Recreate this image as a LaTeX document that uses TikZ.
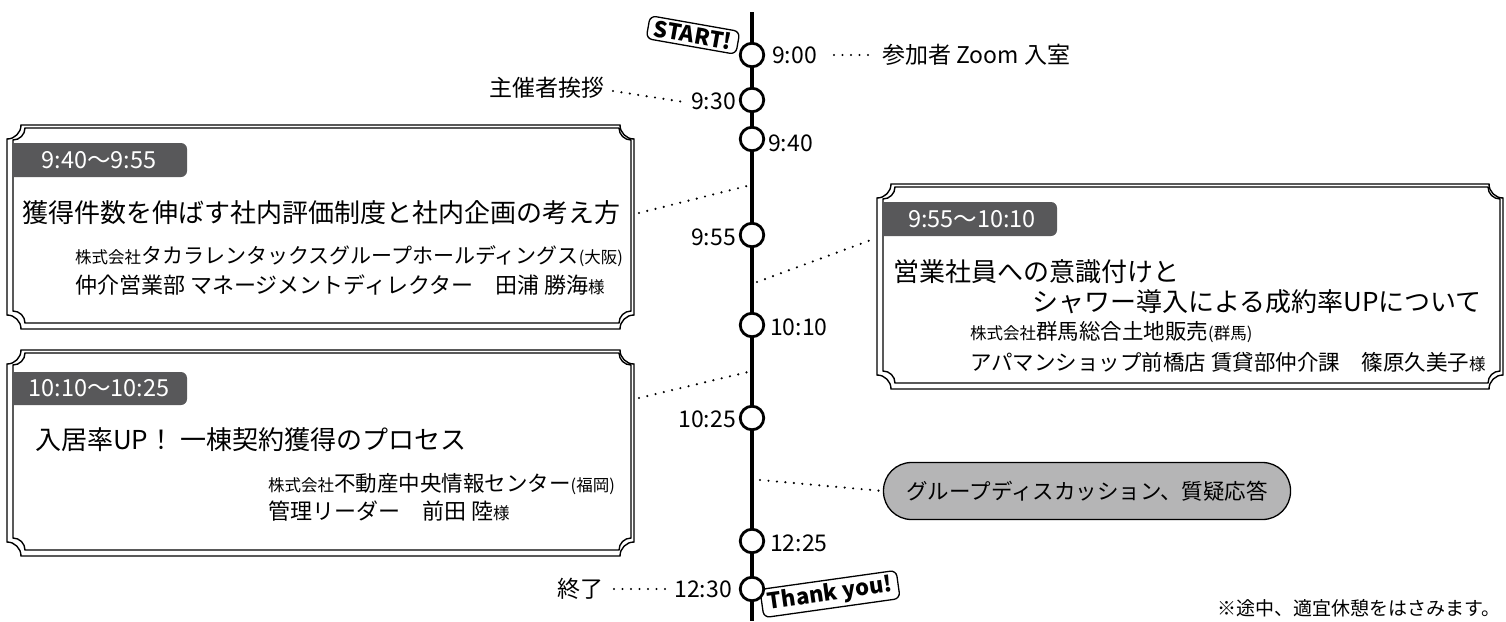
\documentclass[tikz,border=0pt]{standalone}
\usepackage{fontspec}
\setmainfont{Noto Sans CJK JP}
\definecolor{tabc}{HTML}{58585A}
\definecolor{pillc}{HTML}{B5B5B6}
\newcommand\fs[1]{\fontsize{#1}{#1}\selectfont}
\newcommand\sm[1]{{\fs{16.5}#1}}
% concave-cornered frame: x1 y1 x2 y2 r
\newcommand\concave[5]{%
 \draw[frame] ({#1+#5},#2) -- ({#3-#5},#2)
  .. controls ({#3-#5},{#2+0.55*#5}) and ({#3-0.55*#5},{#2+#5}) .. (#3,{#2+#5})
  -- (#3,{#4-#5})
  .. controls ({#3-0.55*#5},{#4-#5}) and ({#3-#5},{#4-0.55*#5}) .. ({#3-#5},#4)
  -- ({#1+#5},#4)
  .. controls ({#1+#5},{#4-0.55*#5}) and ({#1+0.55*#5},{#4-#5}) .. (#1,{#4-#5})
  -- (#1,{#2+#5})
  .. controls ({#1+0.55*#5},{#2+#5}) and ({#1+#5},{#2+0.55*#5}) .. cycle;}
\newcommand\tabshape[4]{%
 \fill[tabc] (#1,#2) [rounded corners=6pt] -- (#3,#2) -- (#3,#4) [sharp corners] -- (#1,#4) -- cycle;}
\begin{document}
\begin{tikzpicture}[x=1pt,y=-1pt,
  frame/.style={line width=1.4pt, fill=none},
  tcirc/.style={circle, draw, fill=white, line width=2.8pt, minimum size=23.5pt, inner sep=0pt},
  tlabel/.style={inner sep=0pt, font=\fs{23}},
  txt/.style={inner sep=0pt},
  dotline/.style={line width=2.4pt, line cap=round, dash pattern=on 0pt off 8.5pt},
  tabtxt/.style={inner sep=0pt, text=white, font=\fs{23.5}},
  badge/.style={draw, fill=white, line width=1.3pt, rounded corners=6pt, inner xsep=6pt, inner ysep=3pt, font=\bfseries\fs{22}}
]
\useasboundingbox (0,0) rectangle (1506,621);

% ---- frames ----
\concave{7}{125}{634}{329}{14}
\concave{13}{128}{631}{323}{12}
\concave{877}{184}{1503}{389}{14}
\concave{883}{187}{1500}{383}{12}
\concave{7}{350}{634}{556}{14}
\concave{13}{353}{631}{550}{12}

% ---- tabs ----
\tabshape{13}{143}{187}{177}
\node[tabtxt] (tab1) at (99,160) {9:40～9:55};
\tabshape{883}{202}{1057}{236}
\node[tabtxt] (tab2) at (972,219) {9:55～10:10};
\tabshape{13}{372}{187}{405}
\node[tabtxt] (tab3) at (99,388) {10:10～10:25};

% ---- box 1 ----
\node[txt, anchor=west, font=\fs{26}] (b1t) at (22,213) {獲得件数を伸ばす社内評価制度と社内企画の考え方};
\node[txt, anchor=west, font=\fs{21}] (b1a) at (75,256) {\sm{株式会社}タカラレンタックスグループホールディングス\sm{(大阪)}};
\node[txt, anchor=west, font=\fs{22}] (b1b) at (75,285) {仲介営業部 マネージメントディレクター　田浦 勝海\sm{様}};
\coordinate (b1r) at (639,213);

% ---- box 2 ----
\node[txt, anchor=west, font=\fs{26}] (b2t) at (893,272) {営業社員への意識付けと};
\node[txt, anchor=east, font=\fs{26}] (b2u) at (1482,302) {シャワー導入による成約率UPについて};
\node[txt, anchor=west, font=\fs{21.5}] (b2a) at (970,332) {\sm{株式会社}群馬総合土地販売\sm{(群馬)}};
\node[txt, anchor=west, font=\fs{21.5}] (b2b) at (970,362) {アパマンショップ前橋店 賃貸部仲介課　篠原久美子\sm{様}};
\coordinate (b2l) at (871,240);

% ---- box 3 ----
\node[txt, anchor=west, font=\fs{26}] (b3t) at (35,440) {入居率UP！ 一棟契約獲得のプロセス};
\node[txt, anchor=west, font=\fs{21.5}] (b3a) at (268,484) {\sm{株式会社}不動産中央情報センター\sm{(福岡)}};
\node[txt, anchor=west, font=\fs{22}] (b3b) at (268,511) {管理リーダー　前田 陸\sm{様}};
\coordinate (b3r) at (639,398);

% ---- pill ----
\node[draw, fill=pillc, line width=1.3pt, rounded corners=28pt, minimum width=407pt, minimum height=57pt, inner sep=0pt, font=\fs{21.5}] (pill) at (1087,491) {グループディスカッション、質疑応答};

% ---- timeline ----
\coordinate (top) at (752,12);
\coordinate (bot) at (752,621);
\draw[line width=4pt] (top) -- (bot);
\coordinate (t1) at (747,186);
\coordinate (t2) at (757,282);
\coordinate (t3) at (748,372);
\coordinate (t4) at (760,480);

% ---- badges ----
\node[badge, rotate=-10] (start) at (693,35) {START!};
\node[badge, rotate=8] (thanks) at (830,594) {Thank you!};

\node[tcirc] (c900) at (752,55) {};
\node[tcirc] (c930) at (752,100) {};
\node[tcirc] (c940) at (752,139) {};
\node[tcirc] (c955) at (752,235) {};
\node[tcirc] (c1010) at (752,325) {};
\node[tcirc] (c1025) at (752,418) {};
\node[tcirc] (c1225) at (752,541) {};
\node[tcirc] (c1230) at (752,589) {};

% ---- time labels ----
\node[tlabel, anchor=west] (l900) at (772,55) {9:00};
\node[tlabel, anchor=west] (p900) at (882,55) {参加者 Zoom 入室};
\node[tlabel, anchor=east] (l930) at (736,101) {9:30};
\node[tlabel, anchor=east] (p930) at (605,88) {主催者挨拶};
\node[tlabel, anchor=west] (l940) at (768,143) {9:40};
\node[tlabel, anchor=east] (l955) at (736,237) {9:55};
\node[tlabel, anchor=west] (l1010) at (770,327) {10:10};
\node[tlabel, anchor=east] (l1025) at (736,419) {10:25};
\node[tlabel, anchor=west] (l1225) at (770,543) {12:25};
\node[tlabel, anchor=east] (l1230) at (732,589) {12:30};
\node[tlabel, anchor=east] (p1230) at (604,589) {終了};

% ---- dotted connectors ----
\draw[dotline] ([xshift=-48pt]p900.west) -- ([xshift=-6pt]p900.west);
\draw[dotline] ([xshift=8pt,yshift=-3pt]p930.east) -- ([xshift=-7pt,yshift=-1pt]l930.west);
\draw[dotline] ([xshift=10pt]p1230.east) -- ([xshift=-8pt]l1230.west);
\draw[dotline] (b1r) -- (t1);
\draw[dotline] (t2) -- (b2l);
\draw[dotline] (b3r) -- (t3);
\draw[dotline] (t4) -- (pill.west);

% ---- note ----
\node[txt, anchor=east, font=\fs{19}] (note) at (1501,608) {※途中、適宜休憩をはさみます。};
\end{tikzpicture}
\end{document}
